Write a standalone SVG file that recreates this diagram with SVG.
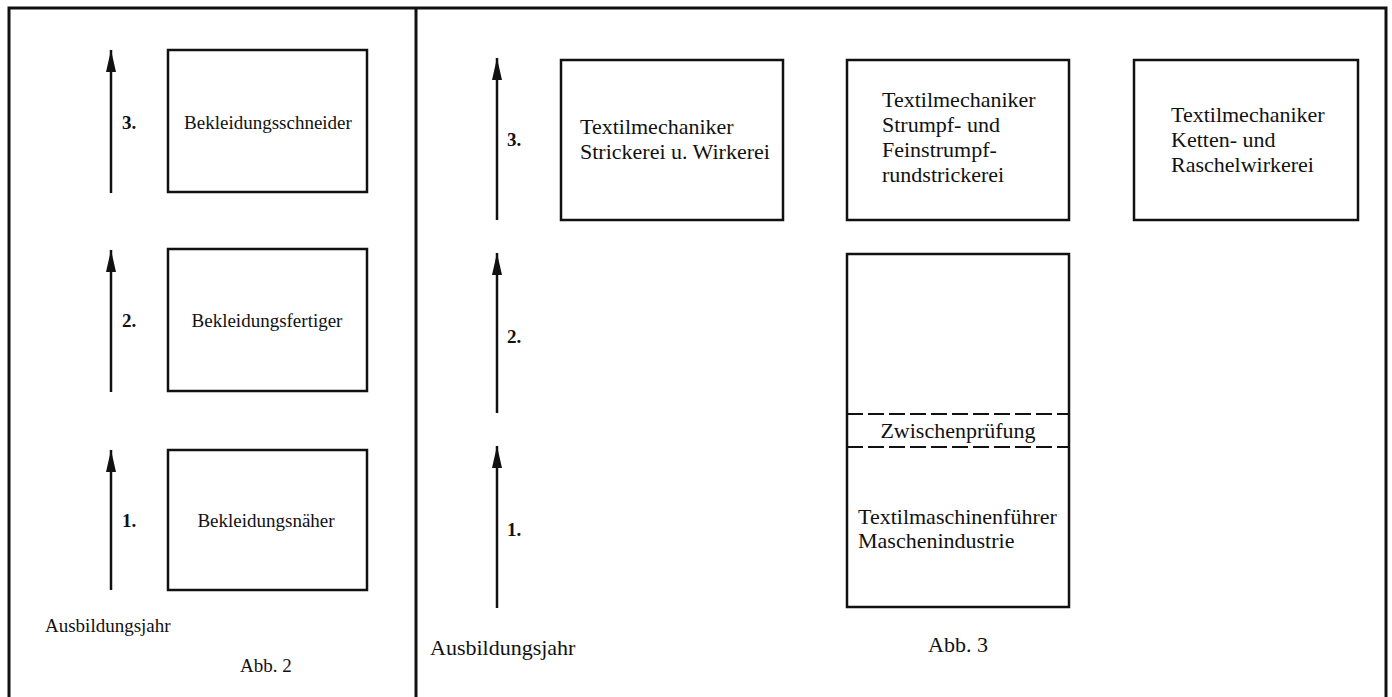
<svg xmlns="http://www.w3.org/2000/svg" width="1392" height="697" viewBox="0 0 1392 697">
<style>
.frame{fill:none;stroke:#111;stroke-width:3}
.box{fill:#fff;stroke:#111;stroke-width:2.5}
.dash{fill:none;stroke:#111;stroke-width:2;stroke-dasharray:16 5}
.arr{stroke:#111;stroke-width:2.5;fill:none}
text{font-family:"Liberation Serif","DejaVu Serif",serif;fill:#111}
.s{font-size:19px}
.m{font-size:22px}
.n{font-size:19px;font-weight:bold}
.c{text-anchor:middle}
</style>
<defs>
<marker id="ah" viewBox="0 0 22 10" refX="22" refY="5" markerWidth="22" markerHeight="10" markerUnits="userSpaceOnUse" orient="auto">
<path d="M0,0 L22,5 L0,10 z" fill="#111"/>
</marker>
</defs>
<g id="frame">
<path class="frame" d="M9,697 V8 H1386 V697"/>
<line class="frame" x1="416" y1="8" x2="416" y2="697"/>
</g>
<g id="connectors">
<line class="arr" x1="111" y1="193" x2="111" y2="50" marker-end="url(#ah)"/>
<line class="arr" x1="111" y1="392" x2="111" y2="250" marker-end="url(#ah)"/>
<line class="arr" x1="111" y1="590" x2="111" y2="450" marker-end="url(#ah)"/>
<line class="arr" x1="497" y1="220" x2="497" y2="58" marker-end="url(#ah)"/>
<line class="arr" x1="497" y1="413" x2="497" y2="253" marker-end="url(#ah)"/>
<line class="arr" x1="497" y1="608" x2="497" y2="446" marker-end="url(#ah)"/>
</g>
<g id="labels-left">
<text class="n" x="122" y="129">3.</text>
<text class="n" x="122" y="327">2.</text>
<text class="n" x="122" y="527">1.</text>
<text class="s" x="45" y="632">Ausbildungsjahr</text>
<text class="s" x="240" y="672">Abb. 2</text>
</g>
<g id="node-bekleidungsschneider">
<rect class="box" x="168" y="50" width="199" height="142"/>
<text class="s c" x="268" y="129">Bekleidungsschneider</text>
</g>
<g id="node-bekleidungsfertiger">
<rect class="box" x="168" y="249" width="199" height="142"/>
<text class="s c" x="267" y="327">Bekleidungsfertiger</text>
</g>
<g id="node-bekleidungsnaeher">
<rect class="box" x="168" y="450" width="199" height="140"/>
<text class="s c" x="266" y="527">Bekleidungsnäher</text>
</g>
<g id="labels-right">
<text class="n" x="507" y="146">3.</text>
<text class="n" x="507" y="343">2.</text>
<text class="n" x="507" y="536">1.</text>
<text class="m" x="430" y="655">Ausbildungsjahr</text>
<text class="m" x="928" y="652">Abb. 3</text>
</g>
<g id="node-strickerei">
<rect class="box" x="561" y="60" width="222" height="160"/>
<text class="m" x="580" y="134">Textilmechaniker</text>
<text class="m" x="580" y="159">Strickerei u. Wirkerei</text>
</g>
<g id="node-strumpf">
<rect class="box" x="847" y="60" width="222" height="160"/>
<text class="m" x="882" y="107">Textilmechaniker</text>
<text class="m" x="882" y="132">Strumpf- und</text>
<text class="m" x="882" y="157">Feinstrumpf-</text>
<text class="m" x="882" y="182">rundstrickerei</text>
</g>
<g id="node-ketten">
<rect class="box" x="1134" y="60" width="224" height="160"/>
<text class="m" x="1171" y="122">Textilmechaniker</text>
<text class="m" x="1171" y="147">Ketten- und</text>
<text class="m" x="1171" y="172">Raschelwirkerei</text>
</g>
<g id="node-maschenindustrie">
<rect class="box" x="847" y="254" width="222" height="353"/>
<rect x="849" y="413" width="218" height="35" fill="#fff"/>
<line class="dash" x1="847" y1="414" x2="1069" y2="414"/>
<line class="dash" x1="847" y1="447" x2="1069" y2="447"/>
<text class="m c" x="958" y="438">Zwischenprüfung</text>
<text class="m" x="858" y="524">Textilmaschinenführer</text>
<text class="m" x="858" y="548">Maschenindustrie</text>
</g>
</svg>
